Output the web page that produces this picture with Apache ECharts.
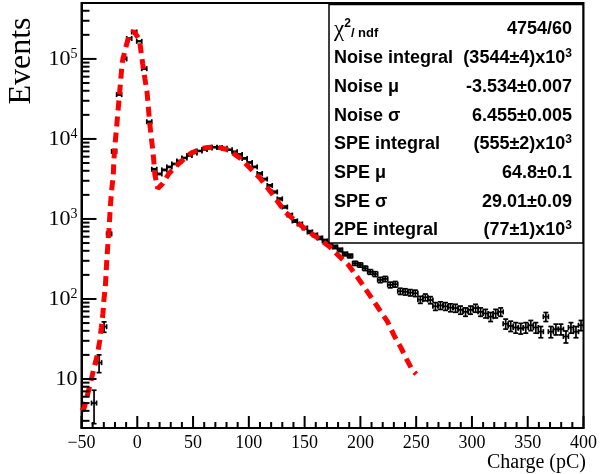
<!DOCTYPE html>
<html>
<head>
<meta charset="utf-8">
<script src="https://cdn.jsdelivr.net/npm/echarts@6/dist/echarts.min.js"></script>
<style>html,body{margin:0;padding:0;background:#fff}#c{width:600px;height:474px}</style>
</head>
<body>
<div id="c"></div>
<script>
// ---- data ----
const histMin = -50;
const binWidth = 4.5;
const counts = [
  0, 0, 5, 16, 45, 650, 7000, 35800, 100000, 180000,
  217000, 166000, 75500, 16400, 4180, 3650, 4100, 4470, 4870, 5310,
  5790, 6220, 6680, 7080, 7390, 7720, 7870, 7830, 7670, 7330,
  6920, 6400, 5710, 5080, 4470, 3700, 3150, 2620, 2175, 1780,
  1410, 1120, 944, 866, 772, 688, 631, 579, 531, 487,
  447, 410, 365, 345, 279, 266, 242, 218, 205, 173,
  178, 150, 153, 125, 123, 120, 118, 98, 105, 97,
  81, 83, 81, 78, 77, 73, 69, 73, 77, 69,
  66, 60, 66, 69, 49, 46, 44, 43, 44, 47,
  44, 39, 60, 39, 42, 42, 34, 44, 39, 47
];
const fitX = [-50, -47.7, -44.7, -41.7, -38.8, -35.8, -33.7, -32.2, -30.8, -29.9, -28.6, -27.2, -25.4, -23.9, -22.8, -21.5, -21.0, -19.5, -17.7, -15.9, -13.5, -10.9, -7.7, -3.2, 1.9, 4.8, 6.9, 8.7, 9.9, 10.8, 12.3, 13.7, 14.6, 15.8, 18.4, 22.6, 28.6, 37.5, 47.9, 58.2, 70.1, 81.9, 92.3, 101.2, 110.1, 120.5, 132.4, 142.7, 151.6, 162, 172.4, 179.8, 189.3, 197, 204.1, 210.9, 217.8, 224.3, 230.2, 236.1, 241.5, 246.5, 250];
const fitY = [4.0, 4.3, 6.3, 9.2, 13.8, 20, 30, 44, 66, 97, 145, 330, 730, 1600, 2400, 3550, 5400, 10000, 19000, 37000, 90000, 131000, 188000, 222000, 175000, 88000, 56000, 39000, 25300, 17300, 11200, 7660, 5740, 3550, 2400, 2750, 3730, 4970, 6620, 7660, 8020, 7290, 5740, 4300, 3230, 2100, 1230, 925, 729, 574, 451, 355, 266, 190, 136, 99, 71, 52, 35, 25, 17.6, 13, 11.5];
const xTicks = {min: -50, max: 400, interval: 50, minorStep: 10};
const yRange = {min: 2.44, max: 5e5};
const yDecades = [10, 100, 1000, 10000, 100000];
const statsRows = [
  ['{chi|χ}{sup|2}{sub|/ ndf}', '4754/60'],
  ['Noise integral', '(3544±4)x10{sup|3}'],
  ['Noise μ', '-3.534±0.007'],
  ['Noise σ', '6.455±0.005'],
  ['SPE integral', '(555±2)x10{sup|3}'],
  ['SPE μ', '64.8±0.1'],
  ['SPE σ', '29.01±0.09'],
  ['2PE integral', '(77±1)x10{sup|3}']
];

// ---- build ----
const histData = [];
counts.forEach((n, i) => {
  if (n > 0) histData.push([histMin + binWidth * (i + 0.5), n, Math.sqrt(n)]);
});
const fitData = fitX.map((x, i) => [x, fitY[i]]);
const minorY = [];
for (let k = 0; k <= 5; k++) for (let m = 2; m <= 9; m++) {
  const v = m * Math.pow(10, k);
  if (v > yRange.min && v < yRange.max) minorY.push(v);
}
const xTickVals = [];
for (let v = xTicks.min; v <= xTicks.max; v += xTicks.minorStep) xTickVals.push(v);

const serif = 'Liberation Serif';
const sans = 'Liberation Sans';

function errRender(params, api) {
  const x = api.value(0), v = api.value(1), e = api.value(2);
  const c = api.coord([x, v]);
  const l = api.coord([x - binWidth / 2, v]);
  const r = api.coord([x + binWidth / 2, v]);
  const t = api.coord([x, v + e]);
  const b = api.coord([x, Math.max(v - e, yRange.min)]);
  const st = {stroke: '#000', lineWidth: 1.7};
  const cap = 2.5;
  const L = (x1, y1, x2, y2) => ({type: 'line', shape: {x1, y1, x2, y2}, style: st});
  return {type: 'group', children: [
    L(l[0], c[1], r[0], c[1]),
    L(l[0], c[1] - cap, l[0], c[1] + cap),
    L(r[0], c[1] - cap, r[0], c[1] + cap),
    L(c[0], t[1], c[0], b[1]),
    L(c[0] - cap, t[1], c[0] + cap, t[1]),
    L(c[0] - cap, b[1], c[0] + cap, b[1])
  ]};
}

const chart = echarts.init(document.getElementById('c'), null, {renderer: 'canvas', devicePixelRatio: 1});
chart.setOption({
  animation: false,
  backgroundColor: '#fff',
  grid: {left: 81.5, right: 13.5, top: 3, bottom: 46, show: true, borderColor: '#000', borderWidth: 2},
  xAxis: {
    type: 'value', min: xTicks.min, max: xTicks.max, interval: xTicks.interval,
    axisLine: {show: true, onZero: false, lineStyle: {color: '#000', width: 2}},
    axisTick: {show: false},
    splitLine: {show: false},
    axisLabel: {fontFamily: serif, fontSize: 18, color: '#000', margin: 6, formatter: v => v < 0 ? '\u2212' + Math.abs(v) : String(v)}
  },
  yAxis: {
    type: 'log', logBase: 10, min: yRange.min, max: yRange.max,
    axisLine: {show: true, onZero: false, lineStyle: {color: '#000', width: 2}},
    axisTick: {show: false},
    splitLine: {show: false},
    axisLabel: {
      margin: 4, color: '#000', showMinLabel: false, showMaxLabel: false,
      formatter: v => {
        const e = Math.round(Math.log10(v));
        if (Math.abs(Math.log10(v) - e) > 1e-6) return '';
        if (e === 1) return '{b|10}';
        return '{b|10}{s|' + e + '}';
      },
      rich: {
        b: {fontFamily: serif, fontSize: 22, color: '#000'},
        s: {fontFamily: serif, fontSize: 14, color: '#000', verticalAlign: 'top', padding: [0, 0, 10, 0]}
      }
    }
  },
  series: [
    {type: 'custom', renderItem: errRender, data: histData, clip: true, z: 2},
    {type: 'line', data: fitData, showSymbol: false, smooth: false, clip: true, z: 4,
     lineStyle: {color: '#ff0000', width: 5, type: [10, 6]}}
  ]
});

// decorations: axis ticks placed through the chart's own scales (as filled rects), stats box, titles
const graphics = [];
const yTick = (v, len) => {
  const p = chart.convertToPixel({gridIndex: 0}, [xTicks.min, v]);
  graphics.push({type: 'rect', z: 150, shape: {x: p[0], y: p[1] - 1, width: len, height: 2}, style: {fill: '#000'}});
};
yDecades.forEach(v => yTick(v, 15));
minorY.forEach(v => yTick(v, 8));
xTickVals.forEach(v => {
  const p = chart.convertToPixel({gridIndex: 0}, [v, yRange.min]);
  const len = (v % xTicks.interval === 0) ? 12 : 6;
  graphics.push({type: 'rect', z: 150, shape: {x: p[0] - 1, y: p[1] - len, width: 2, height: len}, style: {fill: '#000'}});
});
graphics.push({type: 'rect', z: 100, shape: {x: 329, y: 4.5, width: 254, height: 238.5}, style: {fill: '#fff', stroke: '#000', lineWidth: 1.5}});
statsRows.forEach((row, i) => {
  const y = 29.5 + i * 28.7;
  const rich = {
    chi: {fontFamily: serif, fontSize: 23, fontWeight: 'normal', fill: '#000'},
    sup: {fontFamily: sans, fontSize: 12, fontWeight: 'bold', fill: '#000', verticalAlign: 'top', padding: [0, 0, 9, 0]},
    sub: {fontFamily: sans, fontSize: 13, fontWeight: 'bold', fill: '#000', padding: [8, 0, 0, 0]}
  };
  graphics.push({type: 'text', z: 101, x: 334, y: y, style: {text: row[0], rich, font: 'bold 18px ' + sans, fill: '#000', align: 'left', verticalAlign: 'middle'}});
  graphics.push({type: 'text', z: 101, x: 572, y: y, style: {text: row[1], rich, font: 'bold 18px ' + sans, fill: '#000', align: 'right', verticalAlign: 'middle'}});
});
graphics.push({type: 'text', z: 101, x: 22, y: 61, rotation: Math.PI / 2, style: {text: 'Events', font: '32px ' + serif, fill: '#000', align: 'center', verticalAlign: 'middle'}});
graphics.push({type: 'text', z: 101, x: 586, y: 463, style: {text: 'Charge (pC)', font: '20px ' + serif, fill: '#000', align: 'right', verticalAlign: 'middle'}});
chart.setOption({graphic: graphics});
</script>
</body>
</html>
